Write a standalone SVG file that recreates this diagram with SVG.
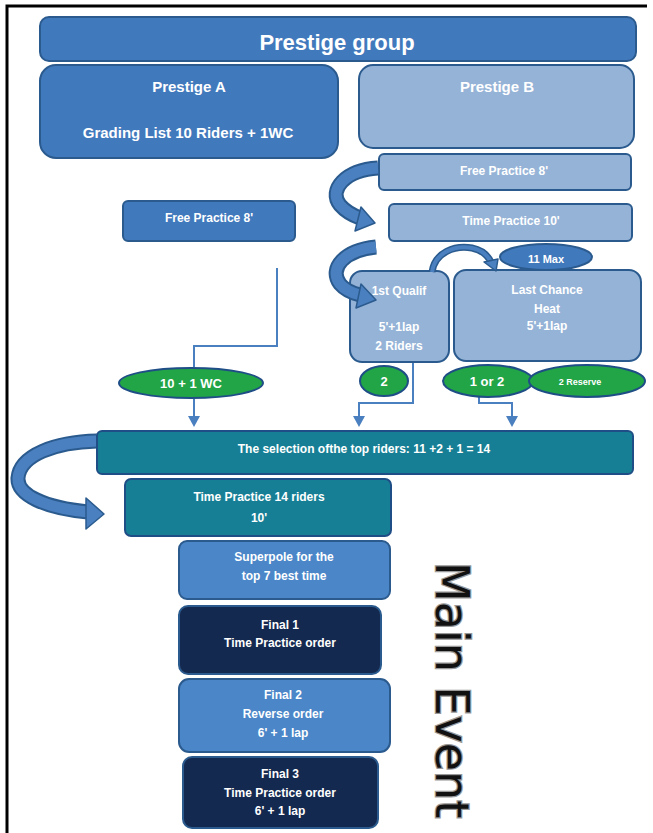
<svg xmlns="http://www.w3.org/2000/svg" width="653" height="833" viewBox="0 0 653 833">
<style>
.t{font-family:"Liberation Sans",Arial,sans-serif;font-weight:bold;fill:#fff;text-anchor:middle}
.mid{fill:#4179bd;stroke:#2b5b8e;stroke-width:2}
.lt{fill:#95b3d7;stroke:#2b5b8e;stroke-width:2}
.teal{fill:#177f95;stroke:#1f4e86;stroke-width:2}
.sb{fill:#4a86c8;stroke:#2b5b8e;stroke-width:2}
.nv{fill:#14294f;stroke:#2b5b8e;stroke-width:2}
.gr{fill:#21a546;stroke:#1f4e86;stroke-width:2}
.ln{fill:none;stroke:#4a7fc0;stroke-width:2}
.ah{fill:#4a7fc0}
.bo{fill:none;stroke:#2b5b8e;stroke-width:15;stroke-linecap:butt}
.bi{fill:none;stroke:#4a80c0;stroke-width:11;stroke-linecap:butt}
.bh{fill:#4a80c0;stroke:#2b5b8e;stroke-width:1.5;stroke-linejoin:round}
</style>
<rect width="653" height="833" fill="#fff"/>
<path d="M7,833 V6 H647" fill="none" stroke="#000" stroke-width="3"/>

<g id="title"><rect class="mid" x="40" y="17" width="596" height="44" rx="9"/><text class="t" x="337" y="50" font-size="22">Prestige group</text></g>
<g id="prestigeA"><rect class="mid" x="40" y="65" width="298" height="93" rx="16"/><text class="t" x="189" y="92" font-size="15">Prestige A</text><text class="t" x="188" y="138" font-size="15">Grading List 10 Riders + 1WC</text></g>
<g id="prestigeB"><rect class="lt" x="359" y="65" width="275" height="83" rx="14"/><text class="t" x="497" y="92" font-size="15">Prestige B</text></g>
<g id="freeB"><rect class="lt" x="379" y="154" width="252" height="36" rx="5"/><text class="t" x="504" y="175" font-size="12">Free Practice  8'</text></g>
<g id="timeB"><rect class="lt" x="389" y="204" width="243" height="37" rx="5"/><text class="t" x="511" y="225" font-size="12">Time Practice  10'</text></g>
<g id="max11"><ellipse class="mid" cx="546" cy="257" rx="46" ry="13"/><text class="t" x="546" y="263" font-size="11">11 Max</text></g>
<g id="qualif"><rect class="lt" x="350" y="271" width="99" height="91" rx="12"/><text class="t" x="399" y="295" font-size="12">1st Qualif</text><text class="t" x="399" y="331" font-size="12">5'+1lap</text><text class="t" x="399" y="350" font-size="12">2 Riders</text></g>
<g id="lastchance"><rect class="lt" x="454" y="270" width="187" height="91" rx="12"/><text class="t" x="547" y="294" font-size="12">Last Chance</text><text class="t" x="547" y="313" font-size="12">Heat</text><text class="t" x="547" y="330" font-size="12">5'+1lap</text></g>
<g id="freeA"><rect class="mid" x="123" y="201" width="172" height="40" rx="5"/><text class="t" x="209" y="222" font-size="12">Free Practice  8'</text></g>

<g id="connectors">
<path class="ln" d="M277,268 V346 H194 V367"/>
<path class="ln" d="M194,399 V420"/><path class="ah" d="M188,416 L194,427 L200,416 Z"/>
<path class="ln" d="M413,363 V403 H359 V420"/><path class="ah" d="M353,416 L359,427 L365,416 Z"/>
<path class="ln" d="M479,396 V403 H512 V420"/><path class="ah" d="M506,416 L512,427 L518,416 Z"/>
<path class="bo" d="M378,168 C345,170 328,190 340,205 C346,212 352,215 360,218"/>
<path class="bi" d="M378,168 C345,170 328,190 340,205 C346,212 352,215 360,218"/>
<path class="bh" d="M361,207 L375,223 L355,231 Z"/>
<path class="bo" d="M376,247 C345,250 328,268 340,284 C345,290 352,293 360,295"/>
<path class="bi" d="M376,247 C345,250 328,268 340,284 C345,290 352,293 360,295"/>
<path class="bh" d="M361,284 L376,300 L356,308 Z"/>
<path d="M432,272 C435,252 455,245 472,248 C482,250 488,256 491,262" fill="none" stroke="#2b5b8e" stroke-width="7"/>
<path d="M432,272 C435,252 455,245 472,248 C482,250 488,256 491,262" fill="none" stroke="#4a80c0" stroke-width="4"/>
<path class="bh" d="M484,262 L498,259 L496,271 Z"/>
<path class="bo" d="M97,441 C55,442 20,455 18,478 C17,495 45,508 88,512"/>
<path class="bi" d="M97,441 C55,442 20,455 18,478 C17,495 45,508 88,512"/>
<path class="bh" d="M86,498 L104,514 L86,529 Z"/>
</g>

<g id="wc"><ellipse class="gr" cx="191" cy="383" rx="72" ry="15"/><text class="t" x="191" y="388" font-size="13">10 + 1 WC</text></g>
<g id="two"><ellipse class="gr" cx="384" cy="381" rx="24" ry="15"/><text class="t" x="384" y="386" font-size="13">2</text></g>
<g id="oneortwo"><ellipse class="gr" cx="488" cy="381" rx="45" ry="16"/><text class="t" x="487" y="386" font-size="13">1 or 2</text></g>
<g id="reserve"><ellipse class="gr" cx="587" cy="381" rx="58" ry="16"/><text class="t" x="580" y="385" font-size="9">2 Reserve</text></g>

<g id="selection"><rect class="teal" x="97" y="431" width="536" height="43" rx="5"/><text class="t" x="364" y="453" font-size="12">The selection ofthe top riders: 11 +2 + 1 = 14</text></g>
<g id="tp14"><rect class="teal" x="125" y="479" width="266" height="57" rx="6"/><text class="t" x="259" y="501" font-size="12">Time Practice 14 riders</text><text class="t" x="259" y="522" font-size="12">10'</text></g>
<g id="superpole"><rect class="sb" x="179" y="541" width="211" height="58" rx="8"/><text class="t" x="284" y="561" font-size="12">Superpole  for the</text><text class="t" x="284" y="580" font-size="12">top 7 best time</text></g>
<g id="final1"><rect class="nv" x="179" y="606" width="202" height="68" rx="9"/><text class="t" x="280" y="629" font-size="12">Final 1</text><text class="t" x="280" y="647" font-size="12">Time Practice order</text></g>
<g id="final2"><rect class="sb" x="179" y="679" width="211" height="73" rx="10"/><text class="t" x="283" y="699" font-size="12">Final 2</text><text class="t" x="283" y="718" font-size="12">Reverse order</text><text class="t" x="283" y="737" font-size="12">6' + 1 lap</text></g>
<g id="final3"><rect class="nv" x="183" y="757" width="195" height="71" rx="9"/><text class="t" x="280" y="778" font-size="12">Final 3</text><text class="t" x="280" y="797" font-size="12">Time  Practice order</text><text class="t" x="280" y="815" font-size="12">6' + 1 lap</text></g>

<g id="mainevent"><text transform="translate(436,562) rotate(90)" x="0" y="0" font-family="'DejaVu Sans',Verdana,sans-serif" font-size="46" fill="#111" stroke="#999" stroke-width="2.5" paint-order="stroke">Main Event</text></g>
</svg>
